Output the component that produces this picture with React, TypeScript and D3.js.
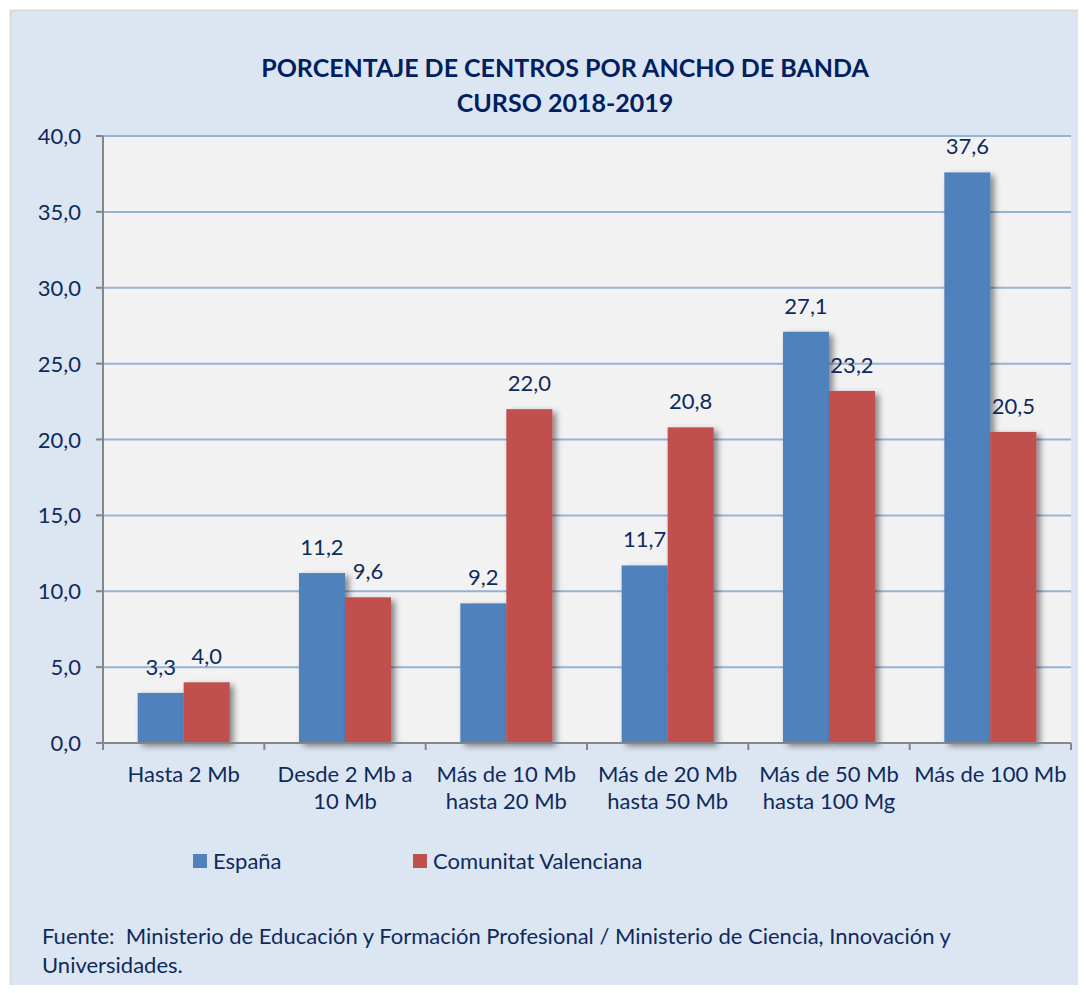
import React from "react";
import * as d3 from "d3";

const categories: string[][] = [
  ["Hasta 2 Mb"],
  ["Desde 2 Mb a", "10 Mb"],
  ["Más de 10 Mb", "hasta 20 Mb"],
  ["Más de 20 Mb", "hasta 50 Mb"],
  ["Más de 50 Mb", "hasta 100 Mg"],
  ["Más de 100 Mb"],
];
const espana = [3.3, 11.2, 9.2, 11.7, 27.1, 37.6];
const valenciana = [4.0, 9.6, 22.0, 20.8, 23.2, 20.5];
const seriesNames = ["España", "Comunitat Valenciana"];
const yTicks = [0, 5, 10, 15, 20, 25, 30, 35, 40];

const W = 1086;
const H = 993;
const plot = { left: 103, right: 1071, top: 136, bottom: 743 };
const textColor = "#0f2a5c";
const font = "Lato, 'Noto Sans', sans-serif";
const colors = ["#4f81bd", "#c0504d"];

const fmt = (v: number) => v.toFixed(1).replace(".", ",");

export default function App() {
  const idx = categories.map((_, i) => i);
  const x = d3.scaleBand<number>().domain(idx).range([plot.left, plot.right]).paddingInner(0).paddingOuter(0);
  const y = d3.scaleLinear().domain([0, 40]).range([plot.bottom, plot.top]);
  const data = [espana, valenciana];
  const barW = 46;
  const groupOff = (x.bandwidth() - 2 * barW) / 2;

  return (
    <div style={{ margin: -8 }}>
      <svg width={W} height={H} style={{ display: "block" }} fontFamily={font}>
        <defs>
          <filter id="sh" x="-30%" y="-10%" width="160%" height="130%">
            <feDropShadow dx="4" dy="3" stdDeviation="3" floodColor="#000" floodOpacity="0.45" />
          </filter>
        </defs>
        <rect x={0} y={0} width={W} height={H} fill="#ffffff" />
        <rect x={10.5} y={10.5} width={W - 10} height={H - 10} fill="#dce6f2" stroke="#d9d9d9" strokeWidth={2} />
        <text x={565} y={77} textAnchor="middle" fontWeight="bold" fontSize={25} fill="#002060">
          PORCENTAJE DE CENTROS POR ANCHO DE BANDA
        </text>
        <text x={565} y={112} textAnchor="middle" fontWeight="bold" fontSize={25} fill="#002060">
          CURSO 2018-2019
        </text>
        <rect x={plot.left} y={plot.top} width={plot.right - plot.left} height={plot.bottom - plot.top} fill="#f2f2f2" />
        {yTicks.filter((t) => t > 0).map((t) => (
          <line key={t} x1={plot.left} x2={plot.right} y1={y(t)} y2={y(t)} stroke="#95b3d7" strokeWidth={2} />
        ))}
        {yTicks.map((t) => (
          <g key={"yt" + t}>
            <line x1={plot.left - 7} x2={plot.left} y1={y(t)} y2={y(t)} stroke="#868686" strokeWidth={2} />
            <text x={81} y={y(t) + 8} textAnchor="end" fontSize={22} fill={textColor}>
              {fmt(t)}
            </text>
          </g>
        ))}
        {data.map((series, s) =>
          series.map((v, i) => (
            <rect
              key={s + "-" + i}
              x={(x(i) as number) + groupOff + s * barW}
              y={y(v)}
              width={barW}
              height={y(0) - y(v)}
              fill={colors[s]}
              filter="url(#sh)"
            />
          ))
        )}
        {data.map((series, s) =>
          series.map((v, i) => (
            <text
              key={"l" + s + "-" + i}
              x={(x(i) as number) + groupOff + s * barW + barW / 2}
              y={y(v) - 18}
              textAnchor="middle"
              fontSize={22}
              fill={textColor}
            >
              {fmt(v)}
            </text>
          ))
        )}
        <line x1={plot.left} x2={plot.left} y1={plot.top} y2={plot.bottom + 7} stroke="#868686" strokeWidth={2} />
        <line x1={plot.left} x2={plot.right} y1={plot.bottom} y2={plot.bottom} stroke="#868686" strokeWidth={2} />
        {idx.concat([idx.length]).map((i) => {
          const xx = i < idx.length ? (x(i) as number) : plot.right;
          return <line key={"xt" + i} x1={xx} x2={xx} y1={plot.bottom} y2={plot.bottom + 7} stroke="#868686" strokeWidth={2} />;
        })}
        {categories.map((lines, i) => (
          <text key={"c" + i} textAnchor="middle" fontSize={22} fill={textColor}>
            {lines.map((ln, j) => (
              <tspan key={j} x={(x(i) as number) + x.bandwidth() / 2} y={782 + j * 27}>
                {ln}
              </tspan>
            ))}
          </text>
        ))}
        {seriesNames.map((n, s) => (
          <g key={"lg" + s}>
            <rect x={193 + s * 220} y={854} width={14} height={14} fill={colors[s]} />
            <text x={213 + s * 220} y={869} fontSize={22} fill={textColor}>
              {n}
            </text>
          </g>
        ))}
        <text x={42} y={944} fontSize={22} fill={textColor} xmlSpace="preserve">
          Fuente:  Ministerio de Educación y Formación Profesional / Ministerio de Ciencia, Innovación y
        </text>
        <text x={42} y={973} fontSize={22} fill={textColor}>
          Universidades.
        </text>
      </svg>
    </div>
  );
}
